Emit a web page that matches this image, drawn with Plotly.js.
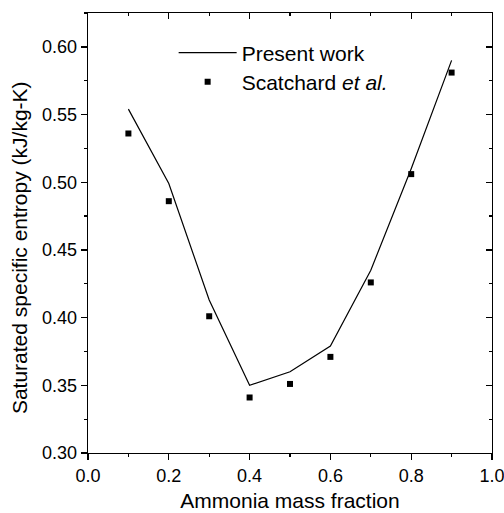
<!DOCTYPE html>
<html>
<head>
<meta charset="utf-8">
<script src="https://cdn.plot.ly/plotly-3.0.1.min.js"></script>
<style>html,body{margin:0;padding:0;background:#fff;}#chart{width:504px;height:513px;}</style>
</head>
<body>
<div id="chart"></div>
<script>
var massFraction = [0.1, 0.2, 0.3, 0.4, 0.5, 0.6, 0.7, 0.8, 0.9];
var presentWork = [0.554, 0.499, 0.413, 0.350, 0.360, 0.379, 0.435, 0.510, 0.590];
var scatchard = [0.536, 0.486, 0.401, 0.341, 0.351, 0.371, 0.426, 0.506, 0.581];
var xTickVals = [0.0, 0.2, 0.4, 0.6, 0.8, 1.0];
var xTickText = ["0.0", "0.2", "0.4", "0.6", "0.8", "1.0"];
var yTickVals = [0.30, 0.35, 0.40, 0.45, 0.50, 0.55, 0.60];
var yTickText = ["0.30", "0.35", "0.40", "0.45", "0.50", "0.55", "0.60"];

var font = 'Liberation Sans, Arial, sans-serif';

var traces = [
  {x: massFraction, y: presentWork, mode: 'lines', name: 'Present work',
   line: {color: '#000', width: 1.2}, legend: 'legend'},
  {x: massFraction, y: scatchard, mode: 'markers', name: 'Scatchard <i>et al.</i>',
   marker: {symbol: 'square', color: '#000', size: 6}, legend: 'legend2'},
  {x: [], y: [], xaxis: 'x2', yaxis: 'y2', mode: 'markers', showlegend: false, hoverinfo: 'skip'}
];

var axBase = {showgrid: false, zeroline: false, linecolor: '#000', linewidth: 1.3,
  tickcolor: '#000', tickwidth: 1.3, showline: true};

var legendBase = {xanchor: 'left', yanchor: 'middle', bgcolor: 'rgba(0,0,0,0)',
  font: {family: font, size: 21, color: '#000'}, itemwidth: 58, tracegroupgap: 0};

var layout = {
  width: 504, height: 513,
  margin: {l: 88, r: 12, t: 13, b: 60},
  paper_bgcolor: '#fff', plot_bgcolor: '#fff',
  font: {family: font, color: '#000', size: 18},
  showlegend: true,
  legend: Object.assign({}, legendBase, {x: 0.212, y: 0.909}),
  legend2: Object.assign({}, legendBase, {x: 0.212, y: 0.843}),
  xaxis: Object.assign({}, axBase, {range: [0, 1], tickmode: 'array', tickvals: xTickVals, ticktext: xTickText,
    ticks: 'outside', ticklen: 6, tickfont: {size: 18}, ticklabeloverflow: 'allow',
    minor: {dtick: 0.1, ticks: 'outside', ticklen: 3, tickcolor: '#000', tickwidth: 1.3},
    title: {text: 'Ammonia mass fraction', font: {size: 21}, standoff: 8}}),
  yaxis: Object.assign({}, axBase, {range: [0.30, 0.625], tickmode: 'array', tickvals: yTickVals, ticktext: yTickText,
    ticks: 'outside', ticklen: 6, tickfont: {size: 18},
    minor: {dtick: 0.025, tick0: 0.3, ticks: 'outside', ticklen: 3, tickcolor: '#000', tickwidth: 1.3}}),
  xaxis2: Object.assign({}, axBase, {overlaying: 'x', side: 'top', range: [0, 1], tickmode: 'array', tickvals: xTickVals,
    showticklabels: false, ticks: 'inside', ticklen: 6,
    minor: {dtick: 0.1, ticks: 'inside', ticklen: 3, tickcolor: '#000', tickwidth: 1.3}}),
  yaxis2: Object.assign({}, axBase, {overlaying: 'y', side: 'right', range: [0.30, 0.625], tickmode: 'array', tickvals: yTickVals,
    showticklabels: false, ticks: 'inside', ticklen: 6,
    minor: {dtick: 0.025, tick0: 0.3, ticks: 'inside', ticklen: 3, tickcolor: '#000', tickwidth: 1.3}}),
  annotations: [{
    text: 'Saturated specific entropy (kJ/kg-K)', textangle: -90, showarrow: false,
    xref: 'paper', yref: 'paper', x: -0.168, y: 0.466, xanchor: 'center', yanchor: 'middle',
    font: {family: font, size: 21, color: '#000'}
  }]
};

Plotly.newPlot('chart', traces, layout, {displayModeBar: false, staticPlot: true});
</script>
</body>
</html>
